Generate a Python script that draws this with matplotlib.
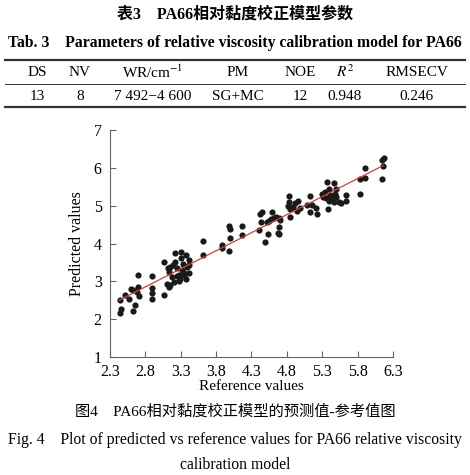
import matplotlib
matplotlib.use('Agg')
import matplotlib.pyplot as plt
import numpy as np
from matplotlib.lines import Line2D

plt.rcParams['font.family'] = ['Liberation Serif', 'Noto Sans CJK SC']
plt.rcParams['mathtext.fontset'] = 'stix'

# table contents
table_cols = ['DS', 'NV', r'WR/cm$^{-1}$', 'PM', 'NOE', r'$R^2$', 'RMSECV']
table_row = ['13', '8', '7 492\u22124 600', 'SG+MC', '12', '0.948', '0.246']

# scatter data
ref_vals = [2.44, 2.45, 2.44, 2.51, 2.57, 2.59, 2.63, 2.65, 2.63, 2.69, 2.70, 2.71, 2.68,
            2.90, 2.90, 2.90, 2.90, 3.07, 3.07,
            3.22, 3.31, 3.38, 3.41, 3.12, 3.13, 3.15, 3.19, 3.22, 3.25, 3.28, 3.32, 3.33,
            3.34, 3.37, 3.39, 3.41, 3.11, 3.13, 3.18, 3.20, 3.27, 3.29, 3.25, 3.15, 3.35,
            3.30, 3.41,
            3.61, 3.61, 3.89, 3.89, 3.98, 3.99, 3.99, 3.98, 4.17, 4.17,
            4.41, 4.42, 4.45, 4.43, 4.49, 4.52, 4.53, 4.55, 4.58, 4.59, 4.62, 4.65, 4.67,
            4.69, 4.69, 4.69, 4.70,
            4.83, 4.83, 4.82, 4.84, 4.84, 4.89, 4.92, 4.95, 4.96, 4.98, 5.08, 5.13, 5.13,
            5.16, 5.21, 5.22, 5.29, 5.31, 5.34, 5.36, 5.37, 5.38, 5.39, 5.40, 5.41, 5.43,
            5.46, 5.47, 5.48, 5.49, 5.50, 5.53, 5.56, 5.63, 5.63, 5.83, 5.84, 5.90, 5.90,
            6.14, 6.15, 6.17, 6.16]
pred_vals = [2.50, 2.26, 2.15, 2.63, 2.53, 2.79, 2.76, 2.37, 2.21, 3.18, 2.85, 2.61, 2.72,
             3.14, 2.83, 2.68, 2.52, 2.63, 3.51,
             3.76, 3.78, 3.69, 3.56, 3.34, 3.25, 3.38, 3.43, 3.52, 3.34, 3.18, 3.29, 3.47,
             3.16, 3.07, 3.38, 3.43, 2.94, 2.85, 3.12, 2.99, 3.00, 3.07, 3.14, 2.91, 3.21,
             3.62, 3.23,
             4.06, 3.69, 3.96, 3.87, 4.46, 4.38, 4.15, 3.80, 4.47, 4.22,
             4.35, 4.79, 4.84, 4.57, 4.04, 4.57, 4.26, 4.59, 4.64, 4.84, 4.68, 4.71, 4.28,
             4.26, 4.44, 4.68, 4.62,
             5.25, 5.09, 5.00, 4.91, 4.71, 4.97, 5.06, 4.86, 5.12, 4.94, 5.01, 5.26, 4.84,
             5.03, 4.93, 4.77, 5.30, 5.24, 5.35, 5.19, 5.63, 4.90, 5.12, 5.45, 5.28, 5.19,
             5.09, 5.59, 5.32, 5.44, 5.24, 5.09, 5.06, 5.28, 5.12, 5.30, 5.70, 5.72, 6.00,
             5.70, 6.22, 6.25, 6.05]

# fitted line end points
fit_x = [2.43, 6.16]
fit_y = [2.50, 6.06]

fig = plt.figure(figsize=(4.7, 4.75), dpi=100)

# table title
fig.text(0.5, 1 - 15 / 475, '表3\u2003PA66相对黏度校正模型参数', ha='center', va='center',
         fontsize=11.5, fontweight='bold')
fig.text(0.5, 1 - 43 / 475, 'Tab. 3\u2003Parameters of relative viscosity calibration model for PA66',
         ha='center', va='center', fontsize=11.3, fontweight='bold')

# table rules
x0, x1 = 5 / 470, 465 / 470
for yy, lw in [(60, 1.6), (84, 0.7), (107, 1.6)]:
    fig.add_artist(Line2D([x0, x1], [1 - yy / 475] * 2, color='#333333', lw=lw))

col_x = [37, 80, 153, 238, 300, 345, 417]
for cx, head, val in zip(col_x, table_cols, table_row):
    fig.text(cx / 470, 1 - 72 / 475, head, ha='center', va='center', fontsize=11)
    fig.text(cx / 470, 1 - 97 / 475, val, ha='center', va='center', fontsize=11)

# the scatter plot
ax = fig.add_axes([110 / 470, 1 - 357 / 475, 283 / 470, 227 / 475])
ax.scatter(ref_vals, pred_vals, s=20, color='#1a1a1a', zorder=3, linewidths=0)
ax.plot(fit_x, fit_y, color='#d04040', lw=0.9, zorder=4)
ax.set_xlim(2.3, 6.3)
ax.set_ylim(1, 7)
ax.set_xticks(np.arange(2.3, 6.31, 0.5))
ax.set_yticks(range(1, 8))
ax.set_xticklabels(['2.3', '2.8', '3.3', '3.8', '4.3', '4.8', '5.3', '5.8', '6.3'])
for s in ['top', 'right']:
    ax.spines[s].set_visible(False)
for s in ['left', 'bottom']:
    ax.spines[s].set_color('#666666')
    ax.spines[s].set_linewidth(0.8)
ax.tick_params(direction='in', length=4, width=0.8, color='#666666', labelsize=11.5)
ax.tick_params(axis='x', pad=5)
ax.tick_params(axis='y', pad=6)
ax.set_xlabel('Reference values', fontsize=11, labelpad=0)
ax.set_ylabel('Predicted values', fontsize=11.5, labelpad=6)

# figure caption
fig.text(0.5, 1 - 412 / 475, '图4\u2003PA66相对黏度校正模型的预测值-参考值图', ha='center', va='center',
         fontsize=11)
fig.text(0.5, 1 - 440 / 475, 'Fig. 4\u2003Plot of predicted vs reference values for PA66 relative viscosity',
         ha='center', va='center', fontsize=11.3)
fig.text(0.5, 1 - 465 / 475, 'calibration model', ha='center', va='center', fontsize=11.3)

fig.savefig('out.png', dpi=100)
